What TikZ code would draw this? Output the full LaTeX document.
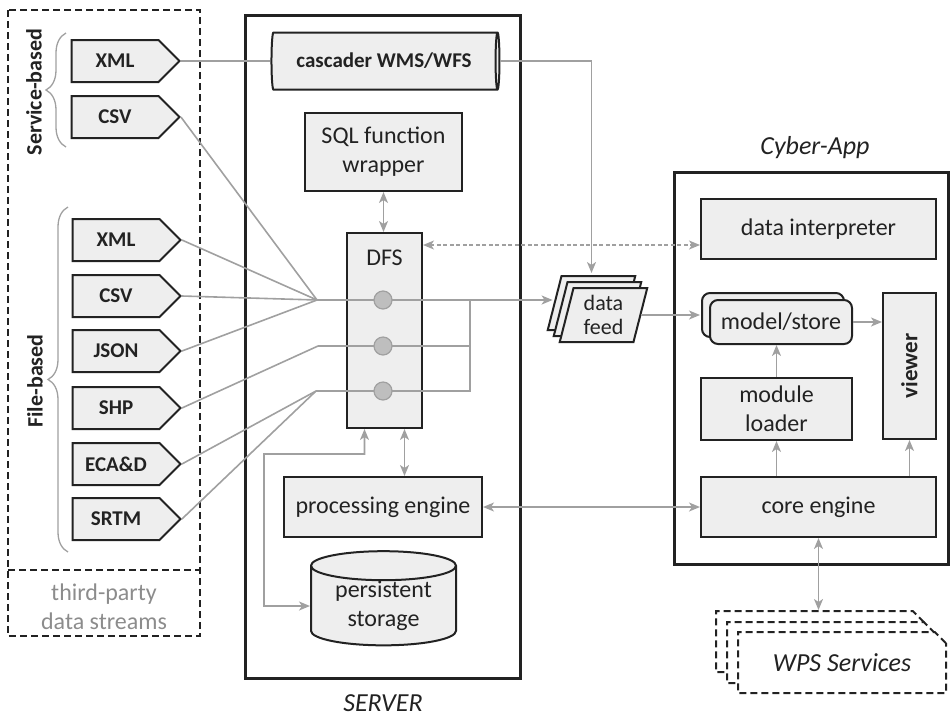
\documentclass[tikz,border=0pt]{standalone}
\usepackage{fontspec}
\setmainfont{Carlito}
\usepackage{xcolor}
\usetikzlibrary{arrows.meta,positioning,shapes.symbols,shapes.geometric,shapes.misc,shadows,decorations.pathreplacing}

\definecolor{boxfill}{HTML}{EEEEEE}
\definecolor{linkgray}{HTML}{A0A0A0}
\definecolor{dotfill}{HTML}{BEBEBE}
\definecolor{inkgray}{HTML}{222222}
\definecolor{notegray}{HTML}{8C8C8C}

\begin{document}
\begin{tikzpicture}[
  x=1pt, y=-1pt,
  font=\fontsize{24}{29}\selectfont, text=inkgray,
  box/.style={draw=inkgray, line width=2pt, fill=boxfill, align=center, inner sep=0pt},
  tag/.style={box, shape=signal, signal to=east, signal pointer angle=90,
    minimum width=108pt, minimum height=42pt, font=\fontsize{21}{24}\selectfont\bfseries},
  frame/.style={draw=inkgray, line width=3pt},
  group/.style={draw=inkgray, line width=2pt, dash pattern=on 7pt off 4pt},
  link/.style={linkgray, line width=1.6pt},
  tip/.style={-{Stealth[length=11pt,width=9pt,inset=3pt]}},
  arr/.style={link, tip},
  darr/.style={link, {Stealth[length=11pt,width=9pt,inset=3pt]}-{Stealth[length=11pt,width=9pt,inset=3pt]}},
  dot/.style={circle, draw=linkgray, fill=dotfill, line width=1.2pt, minimum size=18pt, inner sep=0pt},
  bracket/.style={linkgray, line width=1.3pt, decorate, decoration={brace, amplitude=20pt}},
  title/.style={font=\fontsize{26}{30}\selectfont\itshape}
]
  \useasboundingbox (0,0) rectangle (952,716);

  % third-party data streams
  \draw[group] (8,10) rectangle (200,636);
  \draw[group] (8,570) -- (200,570);
  \node[text=notegray, align=center] (third) at (104,607) {third-party\\data streams};

  \node[tag] (xmls) at (115,61) {XML};
  \node[tag] (csvs) at (115,117) {CSV};
  \node[tag] (xmlf) at (116,240) {XML};
  \node[tag] (csvf) at (116,296) {CSV};
  \node[tag] (json) at (116,351) {JSON};
  \node[tag] (shp) at (116,408) {SHP};
  \node[tag] (ecad) at (116,464) {ECA\&D};
  \node[tag] (srtm) at (116,519) {SRTM};

  \draw[bracket] (66,147) -- (66,33);
  \draw[bracket] (68,552) -- (68,207);
  \node[rotate=90, font=\fontsize{22}{26}\selectfont\bfseries] (servlbl) at (34,92) {Service-based};
  \node[rotate=90, font=\fontsize{22}{26}\selectfont\bfseries] (filelbl) at (35,381) {File-based};

  % server side
  \draw[frame] (245,15) rectangle (520,678);
  \node[title] (server) at (383,703) {SERVER};

  \node[box, cylinder, shape aspect=0.25, minimum width=57pt, minimum height=228pt,
    font=\fontsize{21}{24}\selectfont\bfseries] (casc) at (384,61) {cascader WMS/WFS};
  \node[box, minimum width=157pt, minimum height=78pt] (sql) at (383.5,152) {SQL function\\wrapper};
  \node[box, minimum width=75pt, minimum height=195pt] (dfs) at (384.5,330.5) {};
  \node[below=18pt of dfs.north, inner sep=0pt] (dfslbl) {DFS};
  \node[box, minimum width=198pt, minimum height=60pt] (proc) at (383,507) {processing engine};
  \node[box, cylinder, shape border rotate=90, shape aspect=0.3, minimum width=145pt,
    minimum height=88pt] (store) at (383.5,606) {persistent\\storage};

  % data feed and cyber-app
  \node[box, trapezium, trapezium left angle=77, trapezium right angle=103, trapezium stretches,
    minimum width=88pt, minimum height=54pt, font=\fontsize{22}{24}\selectfont,
    copy shadow={shadow xshift=-12pt, shadow yshift=12pt, fill=boxfill, draw=inkgray, line width=2pt},
    copy shadow={shadow xshift=-6pt, shadow yshift=6pt, fill=boxfill, draw=inkgray, line width=2pt}]
    (feed) at (603.5,315) {data\\feed};

  \draw[frame] (674,172) rectangle (948,564);
  \node[title] (app) at (815,148) {Cyber-App};

  \node[box, minimum width=235pt, minimum height=60pt] (interp) at (818.5,229) {data interpreter};
  \node[box, rounded corners=8pt, minimum width=142pt, minimum height=44pt,
    copy shadow={shadow xshift=-8pt, shadow yshift=7pt, fill=boxfill, draw=inkgray, line width=2pt}]
    (model) at (781,322) {model/store};
  \node[box, minimum width=53pt, minimum height=146pt, font=\fontsize{23}{26}\selectfont\bfseries]
    (viewer) at (909.5,366) {\rotatebox{90}{viewer}};
  \node[box, minimum width=151pt, minimum height=62pt] (loader) at (776.5,409) {module\\loader};
  \node[box, minimum width=235pt, minimum height=60pt] (core) at (818.5,507) {core engine};

  \node[chamfered rectangle, chamfered rectangle corners=north east, chamfered rectangle xsep=8pt,
    draw=inkgray, group, fill=white, minimum width=208pt, minimum height=61pt,
    font=\fontsize{26}{30}\selectfont\itshape,
    copy shadow={shadow xshift=-22pt, shadow yshift=21pt, fill=white, draw=inkgray, line width=2pt, dash pattern=on 7pt off 4pt},
    copy shadow={shadow xshift=-11pt, shadow yshift=10pt, fill=white, draw=inkgray, line width=2pt, dash pattern=on 7pt off 4pt}]
    (wps) at (842,662.5) {WPS Services};

  % feeds into the DFS
  \coordinate (j1) at (317,300);
  \coordinate (j2) at (318,346);
  \coordinate (j3) at (316,391);
  \coordinate (m1) at (470,300);
  \coordinate (m2) at (470,346);
  \coordinate (m3) at (470,391);
  \coordinate (bend) at (264,606);

  \draw[link] (xmls.east) -- (casc.west);
  \draw[link] (csvs.east) -- (j1);
  \draw[link] (xmlf.east) -- (j1);
  \draw[link] (csvf.east) -- (j1);
  \draw[link] (json.east) -- (j1);
  \draw[link] (shp.east) -- (j2);
  \draw[link] (ecad.east) -- (j3);
  \draw[link] (srtm.east) -- (j3);
  \draw[link] (j2) -- (m2);
  \draw[link] (j3) -- (m3) -- (m1);
  \draw[arr] (j1) -- ([xshift=-13pt]feed.west |- j1);

  \node[dot] (d1) at (383,300) {};
  \node[dot] (d2) at (383,346) {};
  \node[dot] (d3) at (383,391) {};

  \draw[arr] (casc.east) -| ([xshift=-12pt, yshift=14pt]feed.north);
  \draw[darr] (sql.south) -- (sql.south |- dfs.north);
  \draw[darr, dash pattern=on 4pt off 2.5pt] ([yshift=-13pt]dfs.north east) -- ([yshift=-13pt]dfs.north east -| interp.west);
  \draw[darr] ([xshift=20pt]dfs.south) -- ([xshift=20pt]dfs.south |- proc.north);
  \draw[darr] ([xshift=-20pt]dfs.south) -- ++(0,25) -| (bend) -- (store.west);

  % cyber-app links
  \draw[arr] (feed.east) -- ([xshift=-9pt]model.west |- feed.east);
  \draw[arr] (model.east) -- (model.east -| viewer.west);
  \draw[arr] (loader.north) -- (loader.north |- model.south);
  \draw[arr] (core.north -| loader) -- (loader.south);
  \draw[arr] (core.north -| viewer) -- (viewer.south);
  \draw[darr] (proc.east) -- (core.west);
  \draw[darr] (core.south) -- ([yshift=21pt]wps.north -| core.south);
\end{tikzpicture}
\end{document}
